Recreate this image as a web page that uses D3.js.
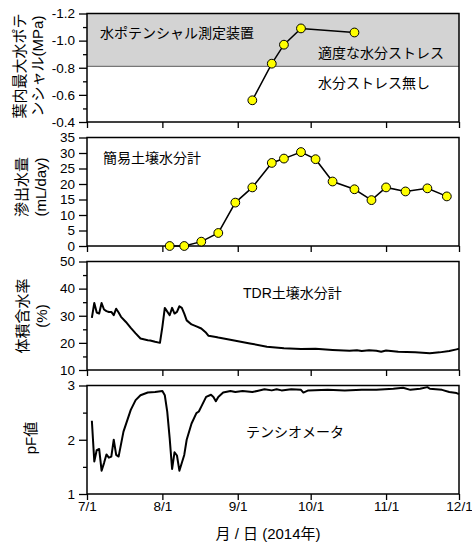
<!DOCTYPE html>
<html>
<head>
<meta charset="utf-8">
<script src="https://cdn.jsdelivr.net/npm/d3@7"></script>
<style>
body { margin: 0; background: #fff; }
text { font-family: "Liberation Sans", Arial, "Noto Sans CJK JP", sans-serif; fill: #000; }
</style>
</head>
<body>
<div class="chart__container"></div>
<script>
/*--------------------------- Init ---------------------------*/

const CHART__WIDTH = 472;
const CHART__HEIGHT = 542;
const PLOT = { left: 87, right: 459, top: 13.5, height: 108.5, gap: 15.5 };

const X__TICKS = ["7/1", "8/1", "9/1", "10/1", "11/1", "12/1"];

// leaf water potential (pressure chamber)
const potentialDates = ["9/7", "9/15", "9/20", "9/27", "10/19"];
const potentialValues = [-0.56, -0.83, -0.97, -1.09, -1.06];
const STRESS__LEVEL = -0.81;

// percolation (simple soil moisture meter)
const percolationDates = ["8/4", "8/10", "8/17", "8/24", "8/31", "9/7", "9/15", "9/20", "9/27",
    "10/3", "10/10", "10/19", "10/26", "11/1", "11/9", "11/18", "11/26"];
const percolationValues = [0, 0, 1.4, 4.2, 14.0, 18.9, 26.8, 28.2, 30.3,
    28.0, 20.8, 18.3, 14.8, 18.9, 17.6, 18.6, 16.0];

// volumetric water content (TDR)
const tdrDates = ["7/3", "7/4", "7/5", "7/6", "7/7", "7/8", "7/9", "7/10", "7/11", "7/12", "7/13", "7/14",
    "7/15", "7/17", "7/19", "7/21", "7/23", "7/26", "7/27", "7/29", "7/31", "8/1", "8/2", "8/4", "8/5",
    "8/6", "8/7", "8/8", "8/9", "8/10", "8/11", "8/13", "8/15", "8/17", "8/19", "8/20", "8/23", "8/24",
    "8/30", "9/6", "9/13", "9/20", "9/27", "10/3", "10/10", "10/17", "10/20", "10/22", "10/25", "10/28",
    "10/30", "11/1", "11/6", "11/13", "11/19", "11/23", "11/27", "11/30", "12/1"];
const tdrValues = [29.2, 34.7, 31.2, 30.8, 34.7, 32.3, 31.7, 31.4, 31.4, 30.2, 32.6, 31.2,
    29.6, 27.7, 25.5, 23.5, 21.6, 21.0, 20.9, 20.4, 20.0, 25.9, 32.9, 30.2, 32.9,
    30.8, 31.4, 33.5, 32.9, 30.8, 28.3, 26.8, 26.1, 25.3, 23.7, 22.6, 22.2, 22.0,
    21.0, 19.8, 18.6, 18.0, 17.7, 17.8, 17.4, 17.1, 17.3, 17.0, 17.3, 17.1,
    16.7, 17.2, 16.7, 16.5, 16.2, 16.5, 17.0, 17.6, 17.8];

// pF (tensiometer)
const pfDates = ["7/3", "7/4", "7/5", "7/6", "7/7", "7/8", "7/9", "7/10", "7/11", "7/12", "7/13", "7/14",
    "7/16", "7/19", "7/21", "7/23", "7/26", "7/29", "8/1", "8/2", "8/3", "8/4", "8/5", "8/6", "8/7", "8/8",
    "8/10", "8/11", "8/13", "8/15", "8/16", "8/17", "8/19", "8/21", "8/22", "8/23", "8/24", "8/26", "8/29",
    "8/31", "9/3", "9/7", "9/9", "9/12", "9/15", "9/17", "9/19", "9/23", "9/27", "9/28", "9/30", "10/8",
    "10/15", "10/22", "10/28", "11/4", "11/8", "11/11", "11/15", "11/18", "11/19", "11/24", "11/27",
    "11/30", "12/1"];
const pfValues = [2.35, 1.60, 1.81, 1.83, 1.43, 1.57, 1.73, 1.67, 1.69, 2.00, 1.72, 1.69,
    2.15, 2.55, 2.73, 2.82, 2.87, 2.88, 2.90, 2.82, 2.52, 2.03, 1.46, 1.77, 1.71, 1.43,
    1.72, 2.00, 2.30, 2.49, 2.52, 2.61, 2.79, 2.83, 2.79, 2.71, 2.79, 2.87, 2.90,
    2.88, 2.90, 2.88, 2.90, 2.93, 2.91, 2.93, 2.91, 2.93, 2.92, 2.87, 2.91, 2.92,
    2.91, 2.92, 2.92, 2.94, 2.96, 2.92, 2.94, 2.97, 2.94, 2.92, 2.88,
    2.86, 2.84];

const parseDay = s => {
    const [m, d] = s.split("/").map(Number);
    return new Date(2014, m - 1, d);
};

/*--------------------------- Chart ---------------------------*/

const svg = d3.select(".chart__container").append("svg")
    .attr("width", CHART__WIDTH)
    .attr("height", CHART__HEIGHT);

const xScale = d3.scaleTime()
    .domain([parseDay("7/1"), parseDay("12/1")])
    .range([PLOT.left, PLOT.right]);

const panelTop = i => PLOT.top + i * (PLOT.height + PLOT.gap);

// one panel = frame + y axis + x ticks
const makePanel = (i, domain, ticks, minor, fmt) => {
    const top = panelTop(i);
    const bottom = top + PLOT.height;
    const y = d3.scaleLinear().domain(domain).range([bottom, top]);
    const g = svg.append("g");

    g.append("g")
        .attr("transform", `translate(${PLOT.left},0)`)
        .call(d3.axisLeft(y).tickValues(ticks).tickSize(8).tickPadding(4).tickFormat(fmt))
        .call(a => a.select(".domain").remove())
        .call(a => a.selectAll("text").attr("font-size", 13.5).attr("font-family", null));

    if (minor.length) {
        g.append("g")
            .attr("transform", `translate(${PLOT.left},0)`)
            .call(d3.axisLeft(y).tickValues(minor).tickSize(4).tickFormat(""))
            .call(a => a.select(".domain").remove());
    }

    g.append("g")
        .attr("transform", `translate(0,${bottom})`)
        .call(d3.axisBottom(xScale).tickValues(X__TICKS.map(parseDay)).tickSize(6).tickPadding(1)
            .tickFormat(i === 3 ? d3.timeFormat("%-m/%-d") : ""))
        .call(a => a.select(".domain").remove())
        .call(a => a.selectAll("text").attr("font-size", 13.5).attr("font-family", null));

    g.selectAll(".tick line").attr("stroke", "#000").attr("stroke-width", 1.3);

    return { g, y, top, bottom };
};

const drawFrame = p => {
    p.g.append("rect")
        .attr("x", PLOT.left).attr("y", p.top)
        .attr("width", PLOT.right - PLOT.left).attr("height", PLOT.height)
        .attr("fill", "none").attr("stroke", "#000").attr("stroke-width", 1.5);
};

const yTitle = (lines, cy, xs, size) => {
    lines.forEach((t, k) => {
        svg.append("text")
            .attr("transform", `translate(${xs[k]},${cy}) rotate(-90)`)
            .attr("text-anchor", "middle")
            .attr("dominant-baseline", "central")
            .attr("font-size", size)
            .text(t);
    });
};

const note = (t, x, y) => {
    svg.append("text")
        .attr("x", x).attr("y", y)
        .attr("dominant-baseline", "central")
        .attr("font-size", 14)
        .text(t);
};

const markers = (p, dates, values) => {
    const pts = dates.map((d, k) => [xScale(parseDay(d)), p.y(values[k])]);
    p.g.append("path")
        .attr("d", d3.line()(pts))
        .attr("fill", "none").attr("stroke", "#000").attr("stroke-width", 1.5);
    p.g.selectAll(".dot")
        .data(pts)
        .enter()
        .append("circle")
        .attr("class", "dot")
        .attr("cx", d => d[0]).attr("cy", d => d[1])
        .attr("r", 4.4)
        .attr("fill", "#ffff00").attr("stroke", "#000").attr("stroke-width", 1);
};

const trace = (p, dates, values) => {
    p.g.append("path")
        .attr("d", d3.line().x(d => xScale(parseDay(d))).y((d, k) => p.y(values[k]))(dates))
        .attr("fill", "none").attr("stroke", "#000")
        .attr("stroke-width", 2).attr("stroke-linejoin", "round");
};

//panel 1 : leaf water potential

const p1 = makePanel(0, [-0.4, -1.2], [-1.2, -1.0, -0.8, -0.6, -0.4], [-1.1, -0.9, -0.7, -0.5], d => d.toFixed(1));
p1.g.insert("rect", ":first-child")
    .attr("x", PLOT.left).attr("y", p1.top)
    .attr("width", PLOT.right - PLOT.left).attr("height", p1.y(STRESS__LEVEL) - p1.top)
    .attr("fill", "#d3d3d3");
p1.g.append("line")
    .attr("x1", PLOT.left).attr("x2", PLOT.right)
    .attr("y1", p1.y(STRESS__LEVEL)).attr("y2", p1.y(STRESS__LEVEL))
    .attr("stroke", "#777").attr("stroke-width", 1.2);
drawFrame(p1);
markers(p1, potentialDates, potentialValues);
note("水ポテンシャル測定装置", 100, 33);
note("適度な水分ストレス", 318, 53);
note("水分ストレス無し", 318, 83);
yTitle(["葉内最大水ポテ", "ンシャル(MPa)"], 66, [19, 37], 15);

//panel 2 : percolation

const p2 = makePanel(1, [0, 35], d3.range(0, 36, 5), [], d => d);
drawFrame(p2);
markers(p2, percolationDates, percolationValues);
note("簡易土壌水分計", 103, 158);
yTitle(["滲出水量", "(mL/day)"], 187, [21, 40], 15);

//panel 3 : TDR

const p3 = makePanel(2, [10, 50], [10, 20, 30, 40, 50], [15, 25, 35, 45], d => d);
drawFrame(p3);
trace(p3, tdrDates, tdrValues);
note("TDR土壌水分計", 243, 293);
yTitle(["体積含水率", "(%)"], 316, [22, 41], 15);

//panel 4 : tensiometer

const p4 = makePanel(3, [1, 3], [1, 2, 3], [1.5, 2.5], d => d);
drawFrame(p4);
trace(p4, pfDates, pfValues);
note("テンシオメータ", 246, 432);
yTitle(["pF値"], 438, [30], 15);

//x title

svg.append("text")
    .attr("x", 268).attr("y", 533)
    .attr("text-anchor", "middle")
    .attr("dominant-baseline", "central")
    .attr("font-size", 15)
    .text("月 / 日 (2014年)");
</script>
</body>
</html>
